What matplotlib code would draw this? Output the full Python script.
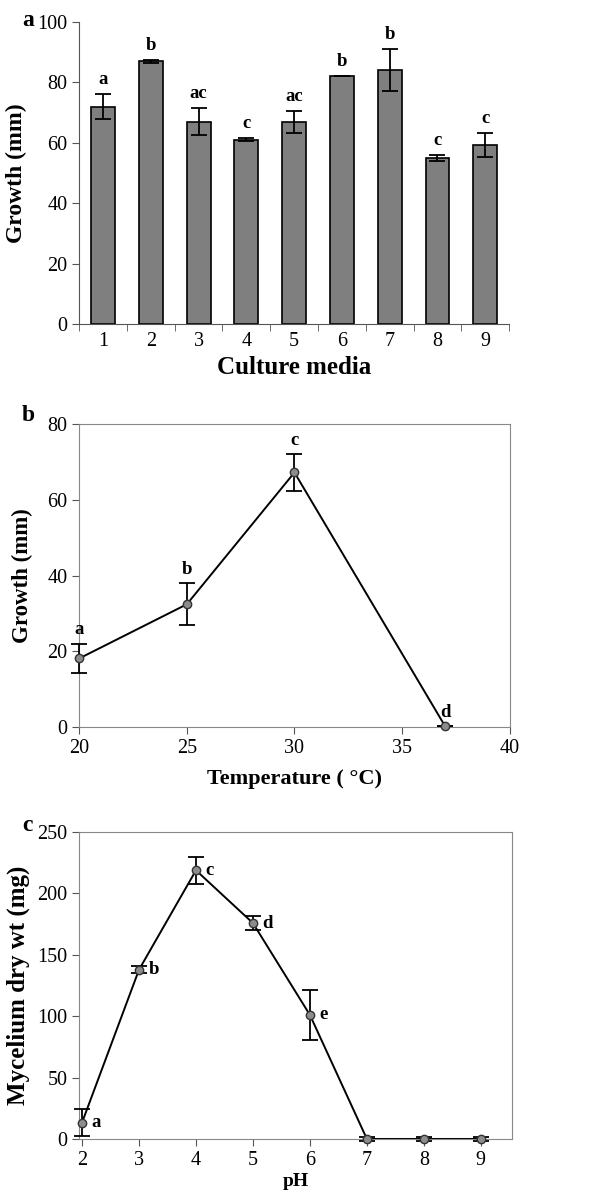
import numpy as np
import matplotlib
matplotlib.use("Agg")
import matplotlib.pyplot as plt

plt.rcParams['font.family'] = ['Liberation Serif', 'DejaVu Serif']

# panel a - culture media
media = [1, 2, 3, 4, 5, 6, 7, 8, 9]
media_growth = [72, 87, 67, 61, 67, 82.2, 84, 55, 59.2]
media_err = [4, 0.5, 4.5, 0.5, 3.6, 0, 7, 1, 4]
media_letters = ['a', 'b', 'ac', 'c', 'ac', 'b', 'b', 'c', 'c']

# panel b - temperature
temp = [20, 25, 30, 37]
temp_growth = [18.1, 32.4, 67.2, 0.2]
temp_err = [3.8, 5.5, 4.8, 0]
temp_letters = ['a', 'b', 'c', 'd']

# panel c - pH
ph = [2, 3, 4, 5, 6, 7, 8, 9]
ph_dry = [13.3, 137.8, 218.8, 175.8, 101, 0, 0, 0]
ph_err = [11, 3, 11, 5.5, 20.5, 1.5, 1.5, 1.5]
ph_letters = ['a', 'b', 'c', 'd', 'e', '', '', '']

fig = plt.figure(figsize=(6.09, 11.94), dpi=100)

# ---- a ----
ax = fig.add_axes([0.130, 0.7286, 0.706, 0.253])
ax.bar(media, media_growth, width=0.5, color='#7f7f7f', edgecolor='black', linewidth=1.2, zorder=2)
ax.errorbar(media, media_growth, yerr=media_err, fmt='none', ecolor='black',
            elinewidth=1.3, capsize=6, capthick=1.3, zorder=3)
for x, y, e, t in zip(media, media_growth, media_err, media_letters):
    ax.text(x, y + e + 2, t, ha='center', va='bottom', fontsize=13.5, fontweight='bold')
ax.set_xlim(0.5, 9.5)
ax.set_ylim(0, 100)
ax.set_yticks(np.arange(0, 101, 20))
ax.set_xticks(media)
ax.set_xticks(np.arange(0.5, 9.6, 1), minor=True)
ax.tick_params(axis='x', which='major', length=0, labelsize=14.5, pad=6)
ax.tick_params(axis='x', which='minor', length=5, direction='out', color='#555555')
ax.tick_params(axis='y', length=5, direction='out', labelsize=14.5, color='#555555')
for s in ['top', 'right']:
    ax.spines[s].set_visible(False)
for s in ['left', 'bottom']:
    ax.spines[s].set_color('#555555')
ax.set_xlabel('Culture media', fontsize=18, fontweight='bold', labelpad=3)
ax.set_ylabel('Growth (mm)', fontsize=17, fontweight='bold', labelpad=7)
fig.text(0.036, 0.983, 'a', fontsize=17, fontweight='bold', va='center')

# ---- b ----
ax = fig.add_axes([0.130, 0.3911, 0.707, 0.2538])
ax.plot(temp, temp_growth, color='black', lw=1.4, zorder=2)
ax.errorbar(temp, temp_growth, yerr=temp_err, fmt='none', ecolor='black',
            elinewidth=1.3, capsize=6, capthick=1.3, zorder=3, clip_on=False)
ax.plot(temp, temp_growth, 'o', ms=6, mfc='#8c8c8c', mec='#333333', mew=1, zorder=4, clip_on=False)
for x, y, e, t in zip(temp, temp_growth, temp_err, temp_letters):
    ax.text(x, y + e + 1.5, t, ha='center', va='bottom', fontsize=13.5, fontweight='bold')
ax.set_xlim(20, 40)
ax.set_ylim(0, 80)
ax.set_xticks(np.arange(20, 41, 5))
ax.set_yticks(np.arange(0, 81, 20))
ax.tick_params(length=5, direction='out', labelsize=14.5, color='#555555')
for s in ax.spines.values():
    s.set_color('#888888')
ax.set_xlabel('Temperature ( °C)', fontsize=16, fontweight='bold', labelpad=8)
ax.set_ylabel('Growth (mm)', fontsize=16.5, fontweight='bold', labelpad=10)
fig.text(0.036, 0.652, 'b', fontsize=17, fontweight='bold', va='center')

# ---- c ----
ax = fig.add_axes([0.130, 0.0461, 0.711, 0.2571])
ax.plot(ph, ph_dry, color='black', lw=1.4, zorder=2)
ax.errorbar(ph, ph_dry, yerr=ph_err, fmt='none', ecolor='black',
            elinewidth=1.3, capsize=5.5, capthick=1.3, zorder=3, clip_on=False)
ax.plot(ph, ph_dry, 'o', ms=6, mfc='#8c8c8c', mec='#333333', mew=1, zorder=4, clip_on=False)
for x, y, t in zip(ph, ph_dry, ph_letters):
    ax.annotate(t, (x, y), xytext=(7, 0), textcoords='offset points',
                ha='left', va='center', fontsize=13.5, fontweight='bold')
ax.set_xlim(1.95, 9.55)
ax.set_ylim(0, 250)
ax.set_xticks(ph)
ax.set_yticks(np.arange(0, 251, 50))
ax.tick_params(length=5, direction='out', labelsize=14.5, color='#555555')
for s in ax.spines.values():
    s.set_color('#888888')
ax.set_xlabel('pH', fontsize=14, fontweight='bold', labelpad=2)
ax.set_ylabel('Mycelium dry wt (mg)', fontsize=18, fontweight='bold', labelpad=5)
fig.text(0.036, 0.309, 'c', fontsize=17, fontweight='bold', va='center')

fig.savefig('out.png', dpi=100)
